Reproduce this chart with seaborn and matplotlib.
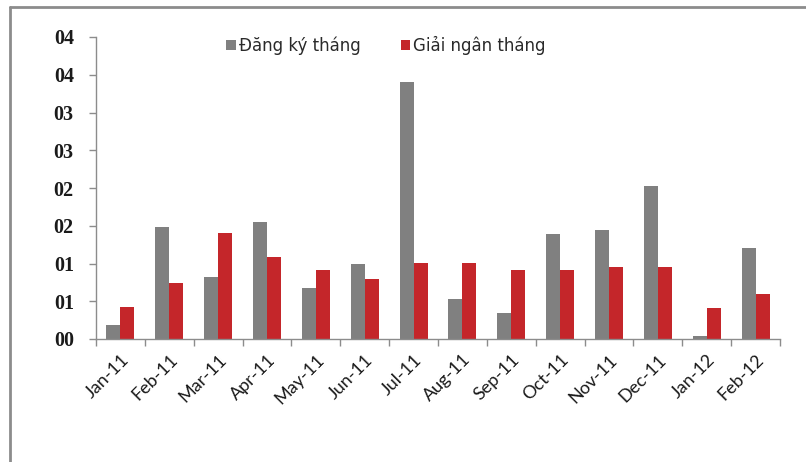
import numpy as np
import pandas as pd
import matplotlib
matplotlib.use("Agg")
import matplotlib.pyplot as plt
from matplotlib.ticker import FixedLocator, FuncFormatter
import seaborn as sns

months = ["Jan-11", "Feb-11", "Mar-11", "Apr-11", "May-11", "Jun-11", "Jul-11",
          "Aug-11", "Sep-11", "Oct-11", "Nov-11", "Dec-11", "Jan-12", "Feb-12"]
dang_ky = [0.19, 1.48, 0.82, 1.55, 0.68, 1.00, 3.40,
           0.53, 0.34, 1.39, 1.44, 2.02, 0.04, 1.20]
giai_ngan = [0.43, 0.74, 1.40, 1.09, 0.91, 0.79, 1.01,
             1.01, 0.91, 0.91, 0.96, 0.96, 0.41, 0.60]
series_names = ["Đăng ký tháng", "Giải ngân tháng"]
y_ticks = [0, 0.5, 1.0, 1.5, 2.0, 2.5, 3.0, 3.5, 4.0]

df = pd.DataFrame({
    "month": months * 2,
    "value": dang_ky + giai_ngan,
    "series": [series_names[0]] * len(months) + [series_names[1]] * len(months),
})

sns.set_theme(style="white")
plt.rcParams["font.family"] = ["DejaVu Sans"]

fig = plt.figure(figsize=(8.06, 4.62), dpi=100)
ax = fig.add_axes([96 / 806, 1 - 339 / 462, (780 - 96) / 806, (339 - 37) / 462])

sns.barplot(data=df, x="month", y="value", hue="series",
            palette=["#808080", "#C4262A"], width=0.573, gap=0,
            linewidth=0, saturation=1, ax=ax)

axis_grey = "#8C8C8C"
ax.set_ylim(0, 4)
ax.set_xlim(-0.5, len(months) - 0.5)
ax.set_xlabel("")
ax.set_ylabel("")
for side in ["top", "right"]:
    ax.spines[side].set_visible(False)
for side in ["left", "bottom"]:
    ax.spines[side].set_color(axis_grey)
    ax.spines[side].set_linewidth(1.0)

# y axis: values shown as rounded two-digit integers
ax.yaxis.set_major_locator(FixedLocator(y_ticks))
ax.yaxis.set_major_formatter(FuncFormatter(lambda v, p: f"{int(np.floor(v + 0.5)):02d}"))
ax.tick_params(axis="y", which="major", direction="out", length=5, width=1,
               color=axis_grey, pad=11, left=True)
for lab in ax.get_yticklabels():
    lab.set_fontfamily("Liberation Serif")
    lab.set_fontweight("bold")
    lab.set_fontsize(14.5)
    lab.set_color("#1a1a1a")

# x axis: labels at category centers, tick marks between categories
ax.set_xticks(range(len(months)))
ax.set_xticklabels(months)
ax.set_xticks(np.arange(-0.5, len(months), 1.0), minor=True)
ax.tick_params(axis="x", which="major", length=0, pad=9)
ax.tick_params(axis="x", which="minor", direction="out", length=5, width=1,
               color=axis_grey, bottom=True)
for lab in ax.get_xticklabels():
    lab.set_rotation(45)
    lab.set_ha("right")
    lab.set_rotation_mode("anchor")
    lab.set_fontfamily("Lato")
    lab.set_fontsize(13)
    lab.set_color("#1a1a1a")

leg = ax.legend(loc="center", bbox_to_anchor=(386 / 806, 1 - 45 / 462),
                bbox_transform=fig.transFigure, ncol=2, frameon=False,
                handlelength=0.55, handleheight=0.55, handletextpad=0.2,
                columnspacing=2.4, fontsize=12)
for t in leg.get_texts():
    t.set_color("#2a2a2a")

# outer frame lines (left and top)
fig.add_artist(plt.Line2D([10 / 806, 10 / 806], [0, 1 - 7 / 462],
                          transform=fig.transFigure, color="#8C8C8C", linewidth=2))
fig.add_artist(plt.Line2D([10 / 806, 1], [1 - 7 / 462, 1 - 7 / 462],
                          transform=fig.transFigure, color="#8C8C8C", linewidth=2))

fig.savefig("out.png", dpi=100)
